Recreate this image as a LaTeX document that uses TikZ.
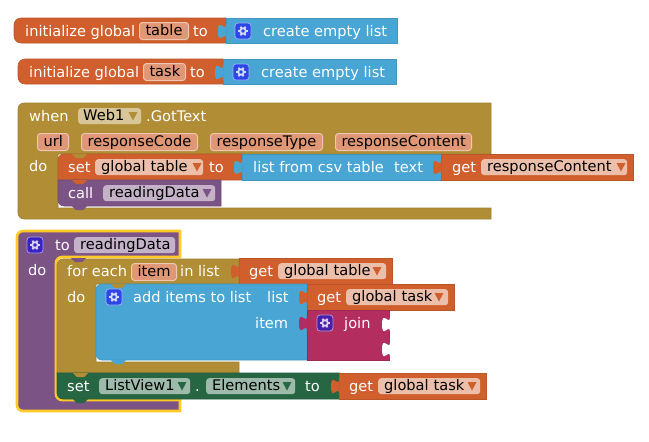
\documentclass[tikz,border=0pt]{standalone}
\usepackage{fontspec}
\setmainfont{DejaVu Sans}
\definecolor{orangeblk}{HTML}{D05F2D}
\definecolor{blueblk}{HTML}{49A6D4}
\definecolor{oliveblk}{HTML}{B18E35}
\definecolor{purpleblk}{HTML}{7C5385}
\definecolor{greenblk}{HTML}{266643}
\definecolor{magentablk}{HTML}{B32D5E}
\definecolor{selectline}{HTML}{FFCA28}
\definecolor{iconblue}{HTML}{2B47E8}
\definecolor{iconproc}{HTML}{3A22C4}
\definecolor{iconjoin}{HTML}{4B1FA8}
\tikzset{
	lbl/.style={inner sep=0pt,anchor=base west,text=white,font=\fontsize{14.6}{16}\selectfont},
	fieldbox/.style={rounded corners=3pt,anchor=north west,inner sep=0pt,inner xsep=6pt,minimum height=16pt,text height=12pt,text depth=3pt,text=black,align=left,font=\fontsize{14.6}{16}\selectfont},
	namefield/.style={fieldbox,fill=#1,draw=#1!55!white,line width=1pt,minimum height=17pt,align=center},
	blk/.style={fill=#1,draw=#1!90!black,line width=0.6pt}
}
\newcommand{\blocktab}[3]{\fill[#3] (#1+0.5,#2+21) -- (#1,#2+21) .. controls (#1,#2+11) and (#1-8,#2+29) .. (#1-8,#2+13.5) .. controls (#1-8,#2-2) and (#1,#2+16) .. (#1,#2+6) -- (#1+0.5,#2+6) -- cycle;}
\newcommand{\notch}[3]{\fill[#3] (#1,#2) -- (#1+4,#2+4) -- (#1+11,#2+4) -- (#1+15,#2) -- cycle;}
\newcommand{\dropdown}[3]{\fill[#3] (#1-4.5,#2-4) -- (#1+4.5,#2-4) -- (#1,#2+4.5) -- cycle;}
\newcommand{\gearicon}[3]{%
	\draw[fill=#3,draw=white!55!#3,rounded corners=3pt,line width=0.8pt] (#1,#2) rectangle (#1+16,#2+16);
	\draw[white!80!#3,line width=1.8pt] (#1+8,#2+8) circle (2.8);
	\foreach \gearangle in {0,60,...,300}
		\draw[white!80!#3,line width=1.8pt] (#1+8,#2+8) ++(\gearangle:3.2) -- ++(\gearangle:1.8);
}
\begin{document}
\begin{tikzpicture}[x=1pt,y=-1pt]
\useasboundingbox (0,0) rectangle (649,442);
% global variables
\draw[blk=orangeblk] (226,18) -- (226,43) [rounded corners=7pt] -- (14,43) -- (14,18) [sharp corners] -- cycle;
\draw[blk=blueblk] (226,18) rectangle (397,43);
\blocktab{226}{18}{blueblk}
\gearicon{235}{23}{iconblue}
\node[lbl] (inittable) at (25,36) {initialize global};
\node[namefield=orangeblk!65!white,text width=37pt] (tablename) at (139,22) {table};
\node[lbl] (inittableto) at (193,36) {to};
\node[lbl] (emptytable) at (263,36) {create empty list};
\draw[blk=orangeblk] (223,59) -- (223,84) [rounded corners=7pt] -- (18,84) -- (18,59) [sharp corners] -- cycle;
\draw[blk=blueblk] (223,59) rectangle (396,84);
\blocktab{223}{59}{blueblk}
\gearicon{233}{64}{iconblue}
\node[lbl] (inittask) at (29,77) {initialize global};
\node[namefield=orangeblk!65!white,text width=30pt] (taskname) at (143,63) {task};
\node[lbl] (inittaskto) at (190,77) {to};
\node[lbl] (emptytask) at (261,77) {create empty list};
% event handler
\draw[blk=oliveblk] (24,103) -- (491,103) -- (491,154) -- (58,154) -- (58,208) -- (491,208) -- (491,219) -- (24,219) arc (90:180:6) -- (18,109) arc (180:270:6) -- cycle;
\draw[blk=orangeblk] (64,154) -- (242,154) -- (242,180) -- (58,180) -- (58,160) arc (180:270:6) -- cycle;
\notch{72}{154}{oliveblk}
\draw[blk=purpleblk] (58,180) -- (221,180) -- (221,206) -- (64,206) arc (90:180:6) -- cycle;
\notch{72}{180}{orangeblk}
\notch{72}{206}{purpleblk}
\draw[blk=blueblk] (242,154) rectangle (441,180);
\blocktab{242}{154}{blueblk}
\draw[blk=orangeblk] (441,154) rectangle (633,180);
\blocktab{441}{154}{orangeblk}
\node[lbl] (whenlbl) at (29,121) {when};
\node[fieldbox,fill=oliveblk!50!white,inner xsep=5pt,text width=53pt] (webfield) at (78,108) {Web1};
\dropdown{133}{116}{oliveblk}
\node[lbl] (gottext) at (146,121) {.GotText};
\node[namefield=orangeblk!65!white,text width=19pt] (urlparam) at (37,133) {url};
\node[namefield=orangeblk!65!white,text width=104pt] (codeparam) at (81,133) {responseCode};
\node[namefield=orangeblk!65!white,text width=100pt] (typeparam) at (210,133) {responseType};
\node[namefield=orangeblk!65!white,text width=124pt] (contentparam) at (335,133) {responseContent};
\node[lbl] (dowhen) at (29,171) {do};
\node[lbl] (setlbl) at (68,172) {set};
\node[fieldbox,fill=orangeblk!40!white,text width=96pt] (settable) at (95,159) {global table};
\dropdown{197}{167}{orangeblk}
\node[lbl] (settableto) at (209,172) {to};
\node[lbl] (csvlbl) at (253,172) {list from csv table};
\node[lbl] (textlbl) at (394,172) {text};
\node[lbl] (getlbl) at (452,172) {get};
\node[fieldbox,fill=orangeblk!40!white,text width=134pt] (getcontent) at (481,159) {responseContent};
\dropdown{621}{167}{orangeblk}
\node[lbl] (calllbl) at (68,198) {call};
\node[fieldbox,fill=purpleblk!45!white,text width=100pt] (callfield) at (103,185) {readingData};
\dropdown{207}{193}{purpleblk}
% procedure
\draw[fill=purpleblk,draw=selectline,line width=2.6pt] (23,231) -- (180,231) -- (180,257) -- (62,257) arc (270:180:6) -- (56,394) arc (180:90:6) -- (180,400) -- (180,411) -- (23,411) arc (90:180:6) -- (17,237) arc (180:270:6) -- cycle;
\gearicon{27}{237}{iconproc}
\node[lbl] (tolbl) at (55,250) {to};
\node[fieldbox,fill=purpleblk!45!white,text width=89pt] (procname) at (74,237) {readingData};
\node[lbl] (doproc) at (28,275) {do};
% for each
\draw[blk=oliveblk] (63,259) -- (239,259) -- (239,284) -- (96,284) -- (96,362) -- (239,362) -- (239,373) -- (57,373) -- (57,265) arc (180:270:6) -- cycle;
\notch{71}{258}{purpleblk}
\draw[blk=orangeblk] (239,258) rectangle (392,284);
\blocktab{239}{258}{orangeblk}
\node[lbl] (foreach) at (67,276) {for each};
\node[namefield=orangeblk!65!white,text width=33pt] (itemname) at (131,263) {item};
\node[lbl] (inlist) at (180,276) {in list};
\node[lbl] (getitems) at (249,276) {get};
\node[fieldbox,fill=orangeblk!40!white,text width=96pt] (gettable) at (278,263) {global table};
\dropdown{377}{271}{orangeblk}
\node[lbl] (doeach) at (67,302) {do};
% add items
\draw[blk=blueblk] (102,284) -- (307,284) -- (307,360) -- (102,360) arc (90:180:6) -- (96,290) arc (180:270:6) -- cycle;
\notch{111}{284}{oliveblk}
\notch{111}{360}{blueblk}
\draw[blk=orangeblk] (307,284) rectangle (454,310);
\blocktab{307}{284}{orangeblk}
\draw[blk=magentablk] (307,310) rectangle (389,360);
\blocktab{390}{311}{white}
\blocktab{390}{336}{white}
\blocktab{307}{310}{magentablk}
\gearicon{106}{289}{iconblue}
\node[lbl] (addlbl) at (133,302) {add items to list};
\node[lbl] (listlbl) at (267,302) {list};
\node[lbl] (itemlbl) at (255,328) {item};
\node[lbl] (getlist) at (317,302) {get};
\node[fieldbox,fill=orangeblk!40!white,text width=90pt] (gettask) at (346,289) {global task};
\dropdown{439}{297}{orangeblk}
\gearicon{317}{315}{iconjoin}
\node[lbl] (joinlbl) at (344,328) {join};
% set elements
\draw[blk=greenblk] (57,373) -- (340,373) -- (340,399) -- (63,399) arc (90:180:6) -- cycle;
\notch{73}{373}{oliveblk}
\notch{73}{399}{greenblk}
\draw[blk=orangeblk] (339,373) rectangle (486,399);
\blocktab{339}{373}{orangeblk}
\node[lbl] (setview) at (67,391) {set};
\node[fieldbox,fill=greenblk!45!white,text width=79pt] (viewfield) at (99,378) {ListView1};
\dropdown{182}{386}{greenblk}
\node[lbl] (dotlbl) at (195,391) {.};
\node[fieldbox,fill=greenblk!45!white,text width=77pt] (elemfield) at (206,378) {Elements};
\dropdown{287}{386}{greenblk}
\node[lbl] (settoview) at (305,391) {to};
\node[lbl] (getview) at (349,391) {get};
\node[fieldbox,fill=orangeblk!40!white,text width=90pt] (gettaskview) at (378,378) {global task};
\dropdown{472}{386}{orangeblk}
\end{tikzpicture}
\end{document}
